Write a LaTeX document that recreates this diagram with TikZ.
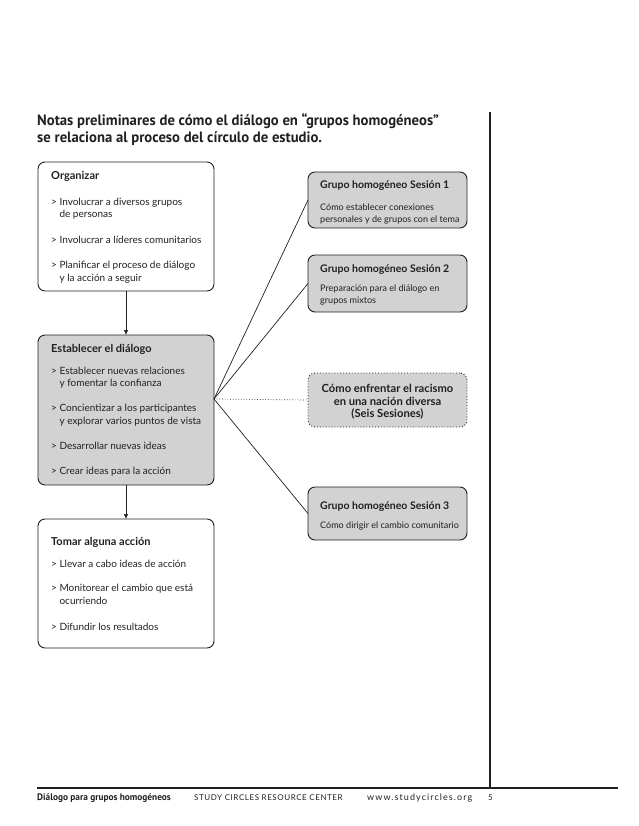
\documentclass[tikz,border=0pt]{standalone}
\usepackage{fontspec}
\setmainfont{Lato}
\newfontfamily\headfont[FakeStretch=0.98]{PT Sans}
\newfontfamily\capsfont[LetterSpace=7]{Lato}
\newfontfamily\urlfont[LetterSpace=12]{Lato}
\usetikzlibrary{arrows.meta}
\definecolor{boxgray}{HTML}{D2D2D2}
\definecolor{ink}{HTML}{231F20}
\begin{document}
\begin{tikzpicture}[x=1pt,y=-1pt,
  box/.style={draw=ink, line width=0.9pt, rounded corners=7pt, inner sep=0pt, outer sep=0pt, anchor=north west},
  graybox/.style={box, fill=boxgray},
  dotbox/.style={box, fill=boxgray, dotted, line width=0.9pt},
  txt/.style={anchor=base west, inner sep=0pt, text=ink, font=\fontsize{10}{12}\selectfont},
  btxt/.style={txt, font=\fontsize{11}{13}\selectfont\bfseries},
  rtxt/.style={txt, font=\fontsize{9.05}{11}\selectfont},
  rbtxt/.style={txt, font=\fontsize{10.5}{12}\selectfont\bfseries},
  ctxt/.style={anchor=base, inner sep=0pt, text=ink, font=\fontsize{11.2}{13}\selectfont\bfseries},
  htxt/.style={anchor=base west, inner sep=0pt, text=ink, font=\headfont\fontsize{15}{17}\selectfont\bfseries},
  ftxt/.style={anchor=base west, inner sep=0pt, text=ink, font=\fontsize{8}{10}\selectfont},
  conn/.style={draw=ink, line width=0.7pt},
  arr/.style={conn, -{Latex[length=5pt,width=4.5pt]}},
  rule/.style={draw=ink, line width=1.1pt}]
\useasboundingbox (0,0) rectangle (638,826);

% page rules
\draw[rule] (490,112) -- (490,788);
\draw[rule] (37,788) -- (618,788);

% title
\node[htxt] (t1) at (37,126) {Notas preliminares de cómo el diálogo en “grupos homogéneos”};
\node[htxt] (t2) at (37,143) {se relaciona al proceso del círculo de estudio.};

% left boxes
\node[box, minimum width=176pt, minimum height=129pt] (org) at (38,162) {};
\node[graybox, minimum width=176pt, minimum height=150pt] (est) at (38,335) {};
\node[box, minimum width=176pt, minimum height=129pt] (tom) at (38,519) {};

% right boxes
\node[graybox, minimum width=159pt, minimum height=56pt] (s1) at (308,172) {};
\node[graybox, minimum width=159pt, minimum height=57pt] (s2) at (308,255) {};
\node[dotbox, minimum width=159pt, minimum height=54pt] (dot) at (308,373) {};
\node[graybox, minimum width=159pt, minimum height=53pt] (s3) at (308,487) {};

% Organizar text
\node[btxt] (o0) at (51,180) {Organizar};
\node[txt] (o1) at (51,205.5) {> Involucrar a diversos grupos};
\node[txt] (o2) at (51,217.5) {\phantom{> }de personas};
\node[txt] (o3) at (51,243.5) {> Involucrar a líderes comunitarios};
\node[txt] (o4) at (51,268.5) {> Planificar el proceso de diálogo};
\node[txt] (o5) at (51,281.5) {\phantom{> }y la acción a seguir};

% Establecer text
\node[btxt] (e0) at (51,352) {Establecer el diálogo};
\node[txt] (e1) at (51,374.5) {> Establecer nuevas relaciones};
\node[txt] (e2) at (51,386.5) {\phantom{> }y fomentar la confianza};
\node[txt] (e3) at (51,411.5) {> Concientizar a los participantes};
\node[txt] (e4) at (51,424.5) {\phantom{> }y explorar varios puntos de vista};
\node[txt] (e5) at (51,449.5) {> Desarrollar nuevas ideas};
\node[txt] (e6) at (51,474.5) {> Crear ideas para la acción};

% Tomar text
\node[btxt] (m0) at (51,545) {Tomar alguna acción};
\node[txt] (m1) at (51,567.5) {> Llevar a cabo ideas de acción};
\node[txt] (m2) at (51,591.5) {> Monitorear el cambio que está};
\node[txt] (m3) at (51,604.5) {\phantom{> }ocurriendo};
\node[txt] (m4) at (51,630.5) {> Difundir los resultados};

% right box texts
\node[rbtxt] (a0) at (320,189) {Grupo homogéneo Sesión 1};
\node[rtxt] (a1) at (320,210.5) {Cómo establecer conexiones};
\node[rtxt] (a2) at (320,222.5) {personales y de grupos con el tema};

\node[rbtxt] (b0) at (320,272) {Grupo homogéneo Sesión 2};
\node[rtxt] (b1) at (320,291.5) {Preparación para el diálogo en};
\node[rtxt] (b2) at (320,303.5) {grupos mixtos};

\node[ctxt] (d0) at (387.5,392) {Cómo enfrentar el racismo};
\node[ctxt] (d1) at (387.5,405) {en una nación diversa};
\node[ctxt] (d2) at (387.5,417) {(Seis Sesiones)};

\node[rbtxt] (c0) at (320,509) {Grupo homogéneo Sesión 3};
\node[rtxt] (c1) at (320,528.5) {Cómo dirigir el cambio comunitario};

% connectors
\draw[arr] (org.south) -- (est.north);
\draw[arr] (est.south) -- (tom.north);
\coordinate (fan) at (214,399);
\draw[conn] (fan) -- (s1.west);
\draw[conn] (fan) -- (s2.west);
\draw[conn, dotted] (fan) -- (dot.west);
\draw[conn] (fan) -- (s3.west);

% footer
\node[ftxt, font=\headfont\fontsize{9.5}{11}\selectfont\bfseries] (f1) at (37,800) {Diálogo para grupos homogéneos};
\node[ftxt, font=\capsfont\fontsize{8}{10}\selectfont] (f2) at (194,800) {STUDY CIRCLES RESOURCE CENTER};
\node[ftxt, font=\urlfont\fontsize{9}{10}\selectfont] (f3) at (367,800) {www.studycircles.org};
\node[ftxt] (f4) at (488,800) {5};
\end{tikzpicture}
\end{document}
